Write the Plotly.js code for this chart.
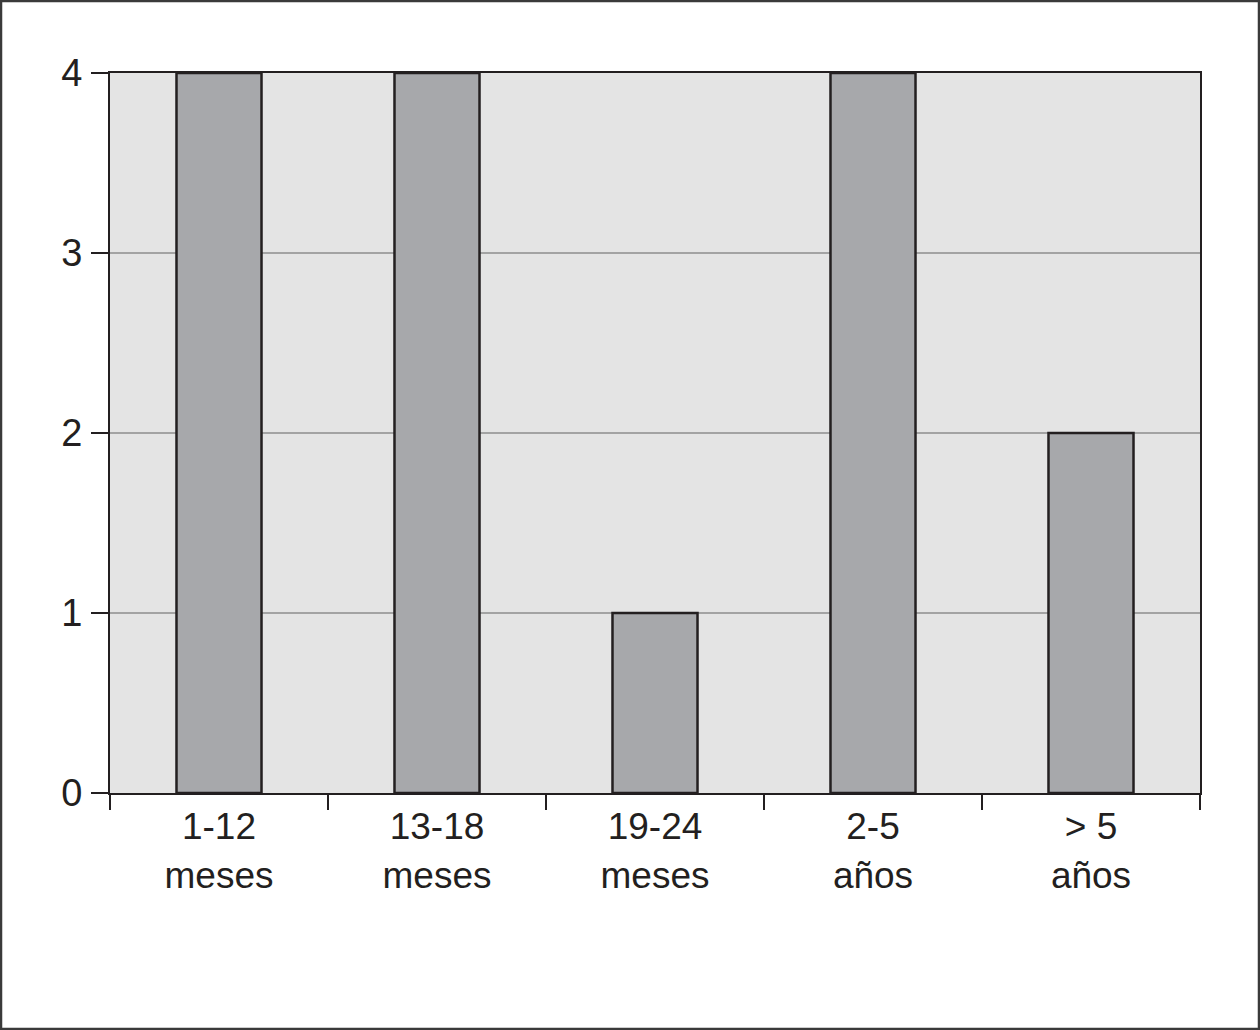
<!DOCTYPE html>
<html>
<head>
<meta charset="utf-8">
<script src="https://cdn.plot.ly/plotly-3.0.1.min.js"></script>
<style>
html,body{margin:0;padding:0;background:#fff;}
#chart{width:1260px;height:1030px;}
</style>
</head>
<body>
<div id="chart"></div>
<script>
const categories = ["1-12<br>meses", "13-18<br>meses", "19-24<br>meses", "2-5<br>años", "> 5<br>años"];
const values = [4, 4, 1, 4, 2];
const yTicks = [0, 1, 2, 3, 4];

const W = 1260, H = 1030;
const m = {l: 110, r: 60, t: 73, b: 237};
const pw = W - m.l - m.r, ph = H - m.t - m.b;

const trace = {
  type: "bar",
  x: categories,
  y: values,
  marker: {color: "#a7a8ab", line: {color: "#231f20", width: 2.5}},
  hoverinfo: "skip"
};

const layout = {
  width: W, height: H,
  margin: m,
  paper_bgcolor: "#ffffff",
  plot_bgcolor: "#e4e4e4",
  showlegend: false,
  bargap: 0.61,
  font: {family: "Liberation Sans, Arial, Helvetica, sans-serif", color: "#231f20", size: 37},
  xaxis: {
    type: "category",
    range: [-0.5, 4.5],
    tickson: "boundaries",
    ticks: "outside",
    ticklen: 15,
    tickwidth: 2,
    tickcolor: "#231f20",
    showline: true,
    linecolor: "#231f20",
    linewidth: 2,
    mirror: true,
    showgrid: false,
    tickfont: {size: 37, color: "#231f20"},
    fixedrange: true
  },
  yaxis: {
    range: [0, 4],
    tickvals: yTicks,
    ticktext: yTicks.map(String),
    ticks: "outside",
    ticklen: 17,
    tickwidth: 2,
    tickcolor: "#231f20",
    showline: true,
    linecolor: "#231f20",
    linewidth: 2,
    mirror: true,
    showgrid: true,
    gridcolor: "#a3a3a3",
    gridwidth: 2,
    zeroline: false,
    tickfont: {size: 38, color: "#231f20"},
    ticklabelstandoff: 1,
    fixedrange: true
  },
  shapes: [{
    type: "rect", xref: "paper", yref: "paper",
    x0: (1 - m.l) / pw, x1: (W - 1 - m.l) / pw,
    y0: -(m.b - 1) / ph, y1: 1 + (m.t - 1) / ph,
    line: {color: "#3a3a3a", width: 2.5},
    layer: "above"
  }]
};

Plotly.newPlot("chart", [trace], layout, {displayModeBar: false, staticPlot: true});
</script>
</body>
</html>
